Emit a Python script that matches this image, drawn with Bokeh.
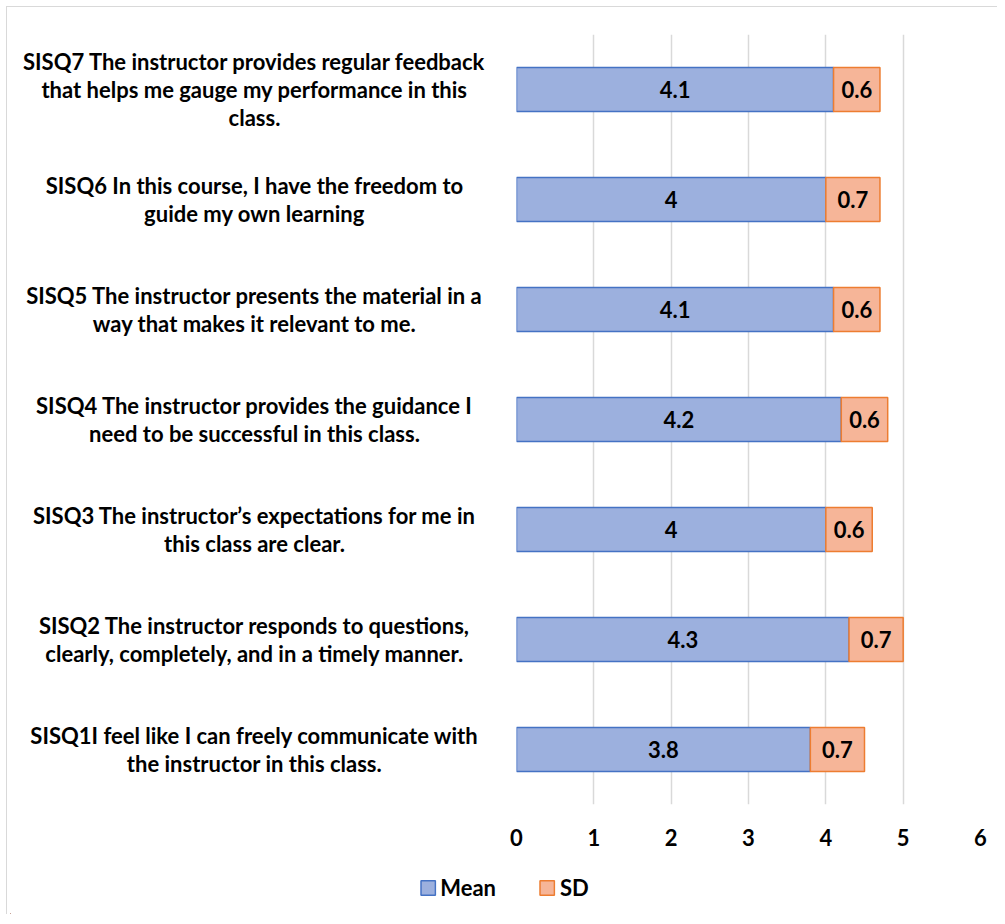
from bokeh.plotting import figure
from bokeh.layouts import row, column
from bokeh.models import Range1d, ColumnDataSource, LabelSet, Legend, LegendItem, FixedTicker
from bokeh.core.properties import value
from bokeh.embed import file_html
from bokeh.resources import INLINE

categories = [
    "SISQ1I feel like I can freely communicate with\nthe instructor in this class.",
    "SISQ2 The instructor responds to questions,\nclearly, completely, and in a timely manner.",
    "SISQ3 The instructor\u2019s expectations for me in\nthis class are clear.",
    "SISQ4 The instructor provides the guidance I\nneed to be successful in this class.",
    "SISQ5 The instructor presents the material in a\nway that makes it relevant to me.",
    "SISQ6 In this course, I have the freedom to\nguide my own learning",
    "SISQ7 The instructor provides regular feedback\nthat helps me gauge my performance in this\nclass.",
]
mean = [3.8, 4.3, 4.0, 4.2, 4.1, 4.0, 4.1]
sd = [0.7, 0.7, 0.6, 0.6, 0.6, 0.7, 0.6]
x_ticks = [0, 1, 2, 3, 4, 5, 6]
series = ["Mean", "SD"]

FONT = "Lato"
FS = "22px"
MEAN_FILL, MEAN_LINE = "#9cb0de", "#4472c4"
SD_FILL, SD_LINE = "#f6b598", "#ed7d31"

OFF = 7               # chart box border offset
TOTAL_W = 997 - OFF
LEFT_W = 506 - OFF    # width of the label panel
TOP_H = 860 - OFF     # height of the upper row
MT, MB = 34 - OFF, 56 # frame top / bottom borders of the upper row
PAD_L, PAD_R = 10, 17 # bar panel borders
LEG_H = 54
LABEL_X = 254 - OFF

ypos = list(range(len(categories)))
y_range = Range1d(-0.5, len(categories) - 0.5)

src = ColumnDataSource(dict(
    y=ypos,
    zero=[0] * len(mean),
    mean=mean,
    sd=sd,
    total=[m + s for m, s in zip(mean, sd)],
    mean_mid=[m / 2 for m in mean],
    sd_mid=[m + s / 2 for m, s in zip(mean, sd)],
    mean_txt=[("%g" % m) for m in mean],
    sd_txt=[("%g" % s) for s in sd],
))

# ---- label panel ----
pl = figure(width=LEFT_W, height=TOP_H, output_backend="svg", toolbar_location=None,
            x_range=Range1d(0, LEFT_W), y_range=y_range,
            min_border_left=0, min_border_right=0, min_border_top=MT, min_border_bottom=MB)
pl.axis.visible = False
pl.grid.visible = False
pl.outline_line_color = None
lsrc = ColumnDataSource(dict(y=ypos, txt=categories, x=[LABEL_X] * len(ypos)))
pl.text(x="x", y="y", text="txt", source=lsrc, text_align="center", text_baseline="middle",
        text_font=value(FONT), text_font_style="bold", text_font_size=FS,
        text_line_height=1.04, text_color="black")

# ---- bar panel ----
p = figure(width=TOTAL_W - LEFT_W, height=TOP_H, output_backend="svg", toolbar_location=None,
           x_range=Range1d(x_ticks[0], x_ticks[-1]), y_range=y_range,
           min_border_left=PAD_L, min_border_right=PAD_R, min_border_top=MT, min_border_bottom=MB)
p.outline_line_color = None
p.yaxis.visible = False
p.ygrid.grid_line_color = None
p.xgrid.grid_line_color = "#d9d9d9"
p.xgrid.grid_line_width = 1.5
p.xaxis.ticker = FixedTicker(ticks=x_ticks)
p.xaxis.axis_line_color = None
p.xaxis.major_tick_line_color = None
p.xaxis.minor_tick_line_color = None
p.xaxis.major_label_standoff = 18
p.xaxis.major_label_text_font = FONT
p.xaxis.major_label_text_font_style = "bold"
p.xaxis.major_label_text_font_size = FS
p.xaxis.major_label_text_color = "black"

p.hbar(y="y", left="zero", right="mean", height=0.4, source=src,
       fill_color=MEAN_FILL, line_color=MEAN_LINE, line_width=1.5)
p.hbar(y="y", left="mean", right="total", height=0.4, source=src,
       fill_color=SD_FILL, line_color=SD_LINE, line_width=1.5)

for col_x, col_t in (("mean_mid", "mean_txt"), ("sd_mid", "sd_txt")):
    p.add_layout(LabelSet(x=col_x, y="y", text=col_t, source=src,
                          text_align="center", text_baseline="middle",
                          text_font=value(FONT), text_font_style="bold",
                          text_font_size=FS, text_color="black"))

# ---- legend panel (series swatches reuse the data source; the panel's ranges keep them out of view) ----
pg = figure(width=TOTAL_W, height=LEG_H, output_backend="svg", toolbar_location=None,
            x_range=Range1d(100, 101), y_range=Range1d(100, 101),
            min_border=0, min_border_left=3)
pg.axis.visible = False
pg.grid.visible = False
pg.outline_line_color = None
g1 = pg.hbar(y="y", left="zero", right="mean", height=0.4, source=src,
             fill_color=MEAN_FILL, line_color=MEAN_LINE, line_width=1.5)
g2 = pg.hbar(y="y", left="mean", right="total", height=0.4, source=src,
             fill_color=SD_FILL, line_color=SD_LINE, line_width=1.5)
legend = Legend(items=[LegendItem(label=series[0], renderers=[g1]),
                       LegendItem(label=series[1], renderers=[g2])],
                orientation="horizontal", location="center",
                glyph_width=18, glyph_height=18, label_standoff=4, spacing=42,
                padding=0, margin=0, border_line_color=None, background_fill_alpha=0,
                label_text_font=FONT, label_text_font_style="bold",
                label_text_font_size=FS, label_text_color="black")
pg.add_layout(legend, "center")

layout = column(row(pl, p), pg)
layout.styles = {"margin-left": "6px", "margin-top": "6px",
                 "border-left": "1px solid #d9d9d9", "border-top": "1px solid #d9d9d9"}
open("out.html", "w").write(file_html(layout, INLINE))
